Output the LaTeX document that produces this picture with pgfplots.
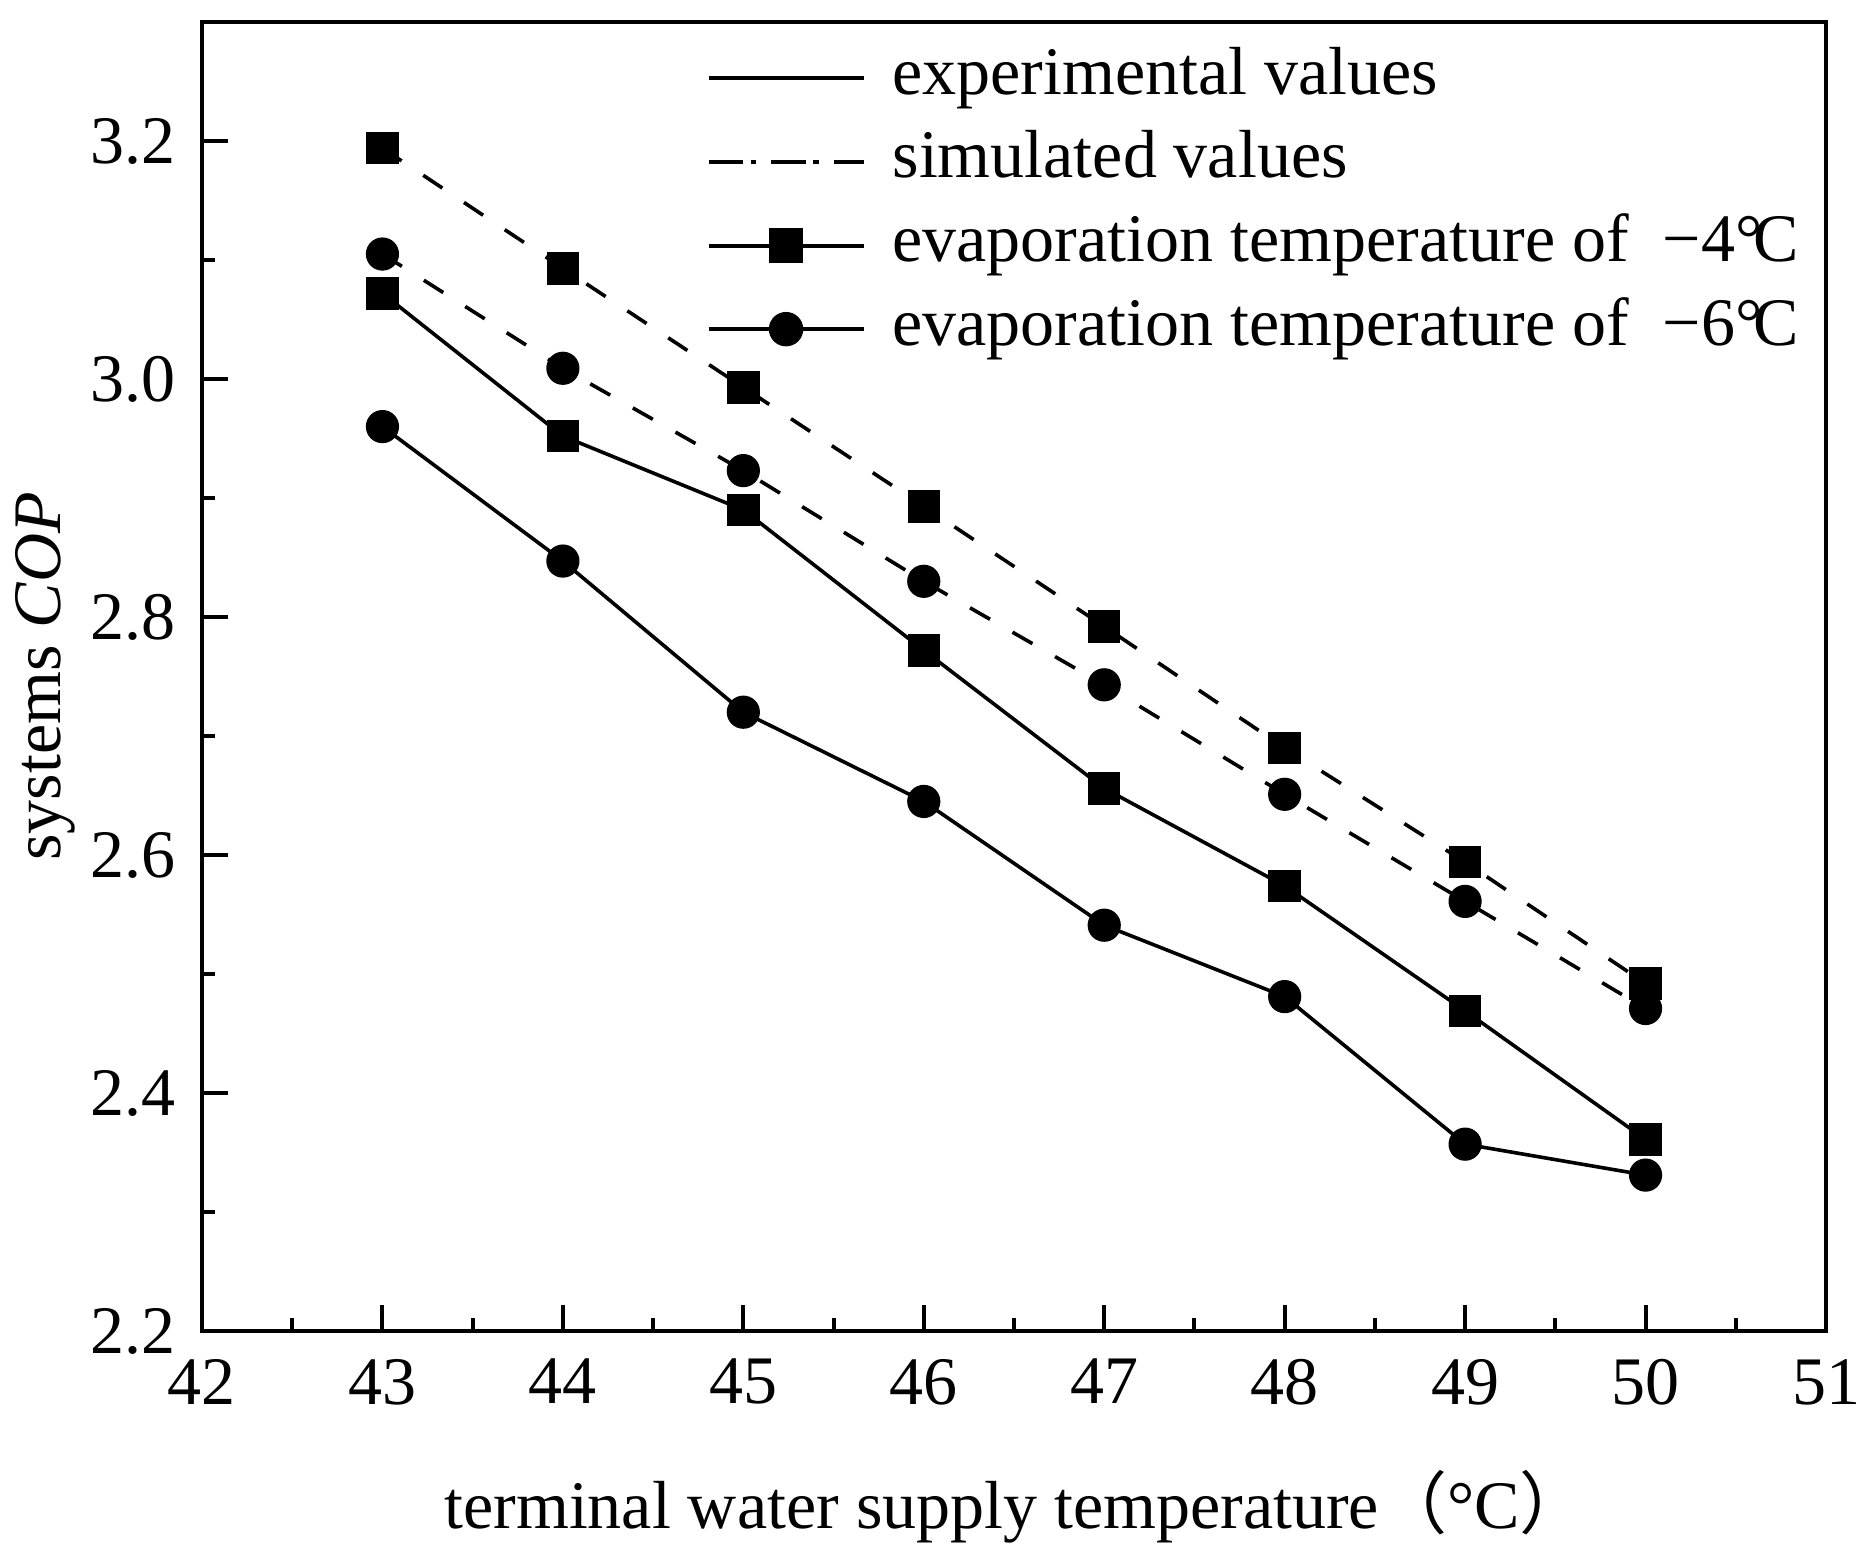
\documentclass[border=0pt]{standalone}
\usepackage{pgfplots}
\pgfplotsset{compat=1.18}
\usepackage{fontspec}
\setmainfont{Liberation Serif}
\newfontfamily\cjk{Noto Sans CJK SC}
\newcommand{\degC}{°\kern-0.14em C}
\begin{document}
\begin{tikzpicture}[font=\fontsize{17}{20}\selectfont]
\begin{axis}[
  scale only axis,
  width=406pt, height=327.25pt,
  xmin=42, xmax=51, ymin=2.2, ymax=3.3,
  xtick={42,43,...,51}, ytick={2.2,2.4,2.6,2.8,3.0,3.2},
  minor x tick num=1, minor y tick num=1,
  xtick pos=bottom, ytick pos=left,
  tick align=inside,
  major tick length=6.5pt, minor tick length=3.25pt,
  every tick/.style={black, line width=1pt},
  axis line style={line width=1pt},
  /pgf/number format/assume math mode=true,
  yticklabel style={/pgf/number format/.cd, fixed, fixed zerofill, precision=1, /tikz/.cd, xshift=-3.2pt},
  xticklabel style={yshift=-3.5pt},
  xlabel={terminal water supply temperature{\cjk （}°C{\cjk ）}},
  ylabel={systems \textit{COP}},
  xlabel style={at={(axis description cs:0.5,0)}, anchor=center, yshift=-44pt, xshift=0.5pt},
  ylabel style={at={(axis description cs:0,0.5)}, anchor=center, rotate=0, yshift=39.25pt},
  legend style={at={(axis description cs:0.3102,0.982)}, anchor=north west, draw=none, fill=none,
    inner sep=0pt, row sep=4.9pt, column sep=6.75pt, cells={anchor=west},
    nodes={inner sep=0pt, text height=12pt, text depth=4pt}},
  legend image code/.code={\draw[#1, mark repeat=2, mark phase=2] plot coordinates {(0pt,0pt) (19.375pt,0pt) (38.75pt,0pt)};},
  clip=false,
]
\addlegendimage{black, line width=1pt, solid}
\addlegendentry{experimental values}
\addlegendimage{black, line width=1pt, dash pattern=on 8.6pt off 1.9pt on 1.4pt off 3.8pt}
\addlegendentry{simulated values}
\addlegendimage{black, line width=1pt, solid, mark=square*, mark size=3.8pt, mark options={solid}}
\addlegendentry{evaporation temperature of\ \ −4\degC}
\addlegendimage{black, line width=1pt, solid, mark=*, mark size=3.8pt, mark options={solid}}
\addlegendentry{evaporation temperature of\ \ −6\degC}

% simulated -4
\addplot[forget plot, black, line width=0.9pt, dash pattern=on 5.75pt off 6.5pt, mark=square*, mark size=3.6pt, mark options={solid}]
coordinates {(43,3.194)(44,3.093)(45,2.993)(46,2.893)(47,2.792)(48,2.690)(49,2.594)(50,2.492)};
% simulated -6
\addplot[forget plot, black, line width=0.9pt, dash pattern=on 5.75pt off 6.5pt, mark=*, mark size=3.7pt, mark options={solid}]
coordinates {(43,3.105)(44,3.009)(45,2.923)(46,2.830)(47,2.743)(48,2.651)(49,2.561)(50,2.471)};
% experimental -4
\addplot[forget plot, black, line width=0.9pt, solid, mark=square*, mark size=3.6pt]
coordinates {(43,3.072)(44,2.952)(45,2.890)(46,2.772)(47,2.656)(48,2.574)(49,2.469)(50,2.361)};
% experimental -6
\addplot[forget plot, black, line width=0.9pt, solid, mark=*, mark size=3.7pt]
coordinates {(43,2.960)(44,2.847)(45,2.720)(46,2.645)(47,2.541)(48,2.481)(49,2.357)(50,2.331)};
\end{axis}
\pgfresetboundingbox
\path ([xshift=-50.5pt,yshift=-55.25pt]current axis.south west) rectangle ([xshift=10pt,yshift=5.5pt]current axis.north east);
\end{tikzpicture}
\end{document}
